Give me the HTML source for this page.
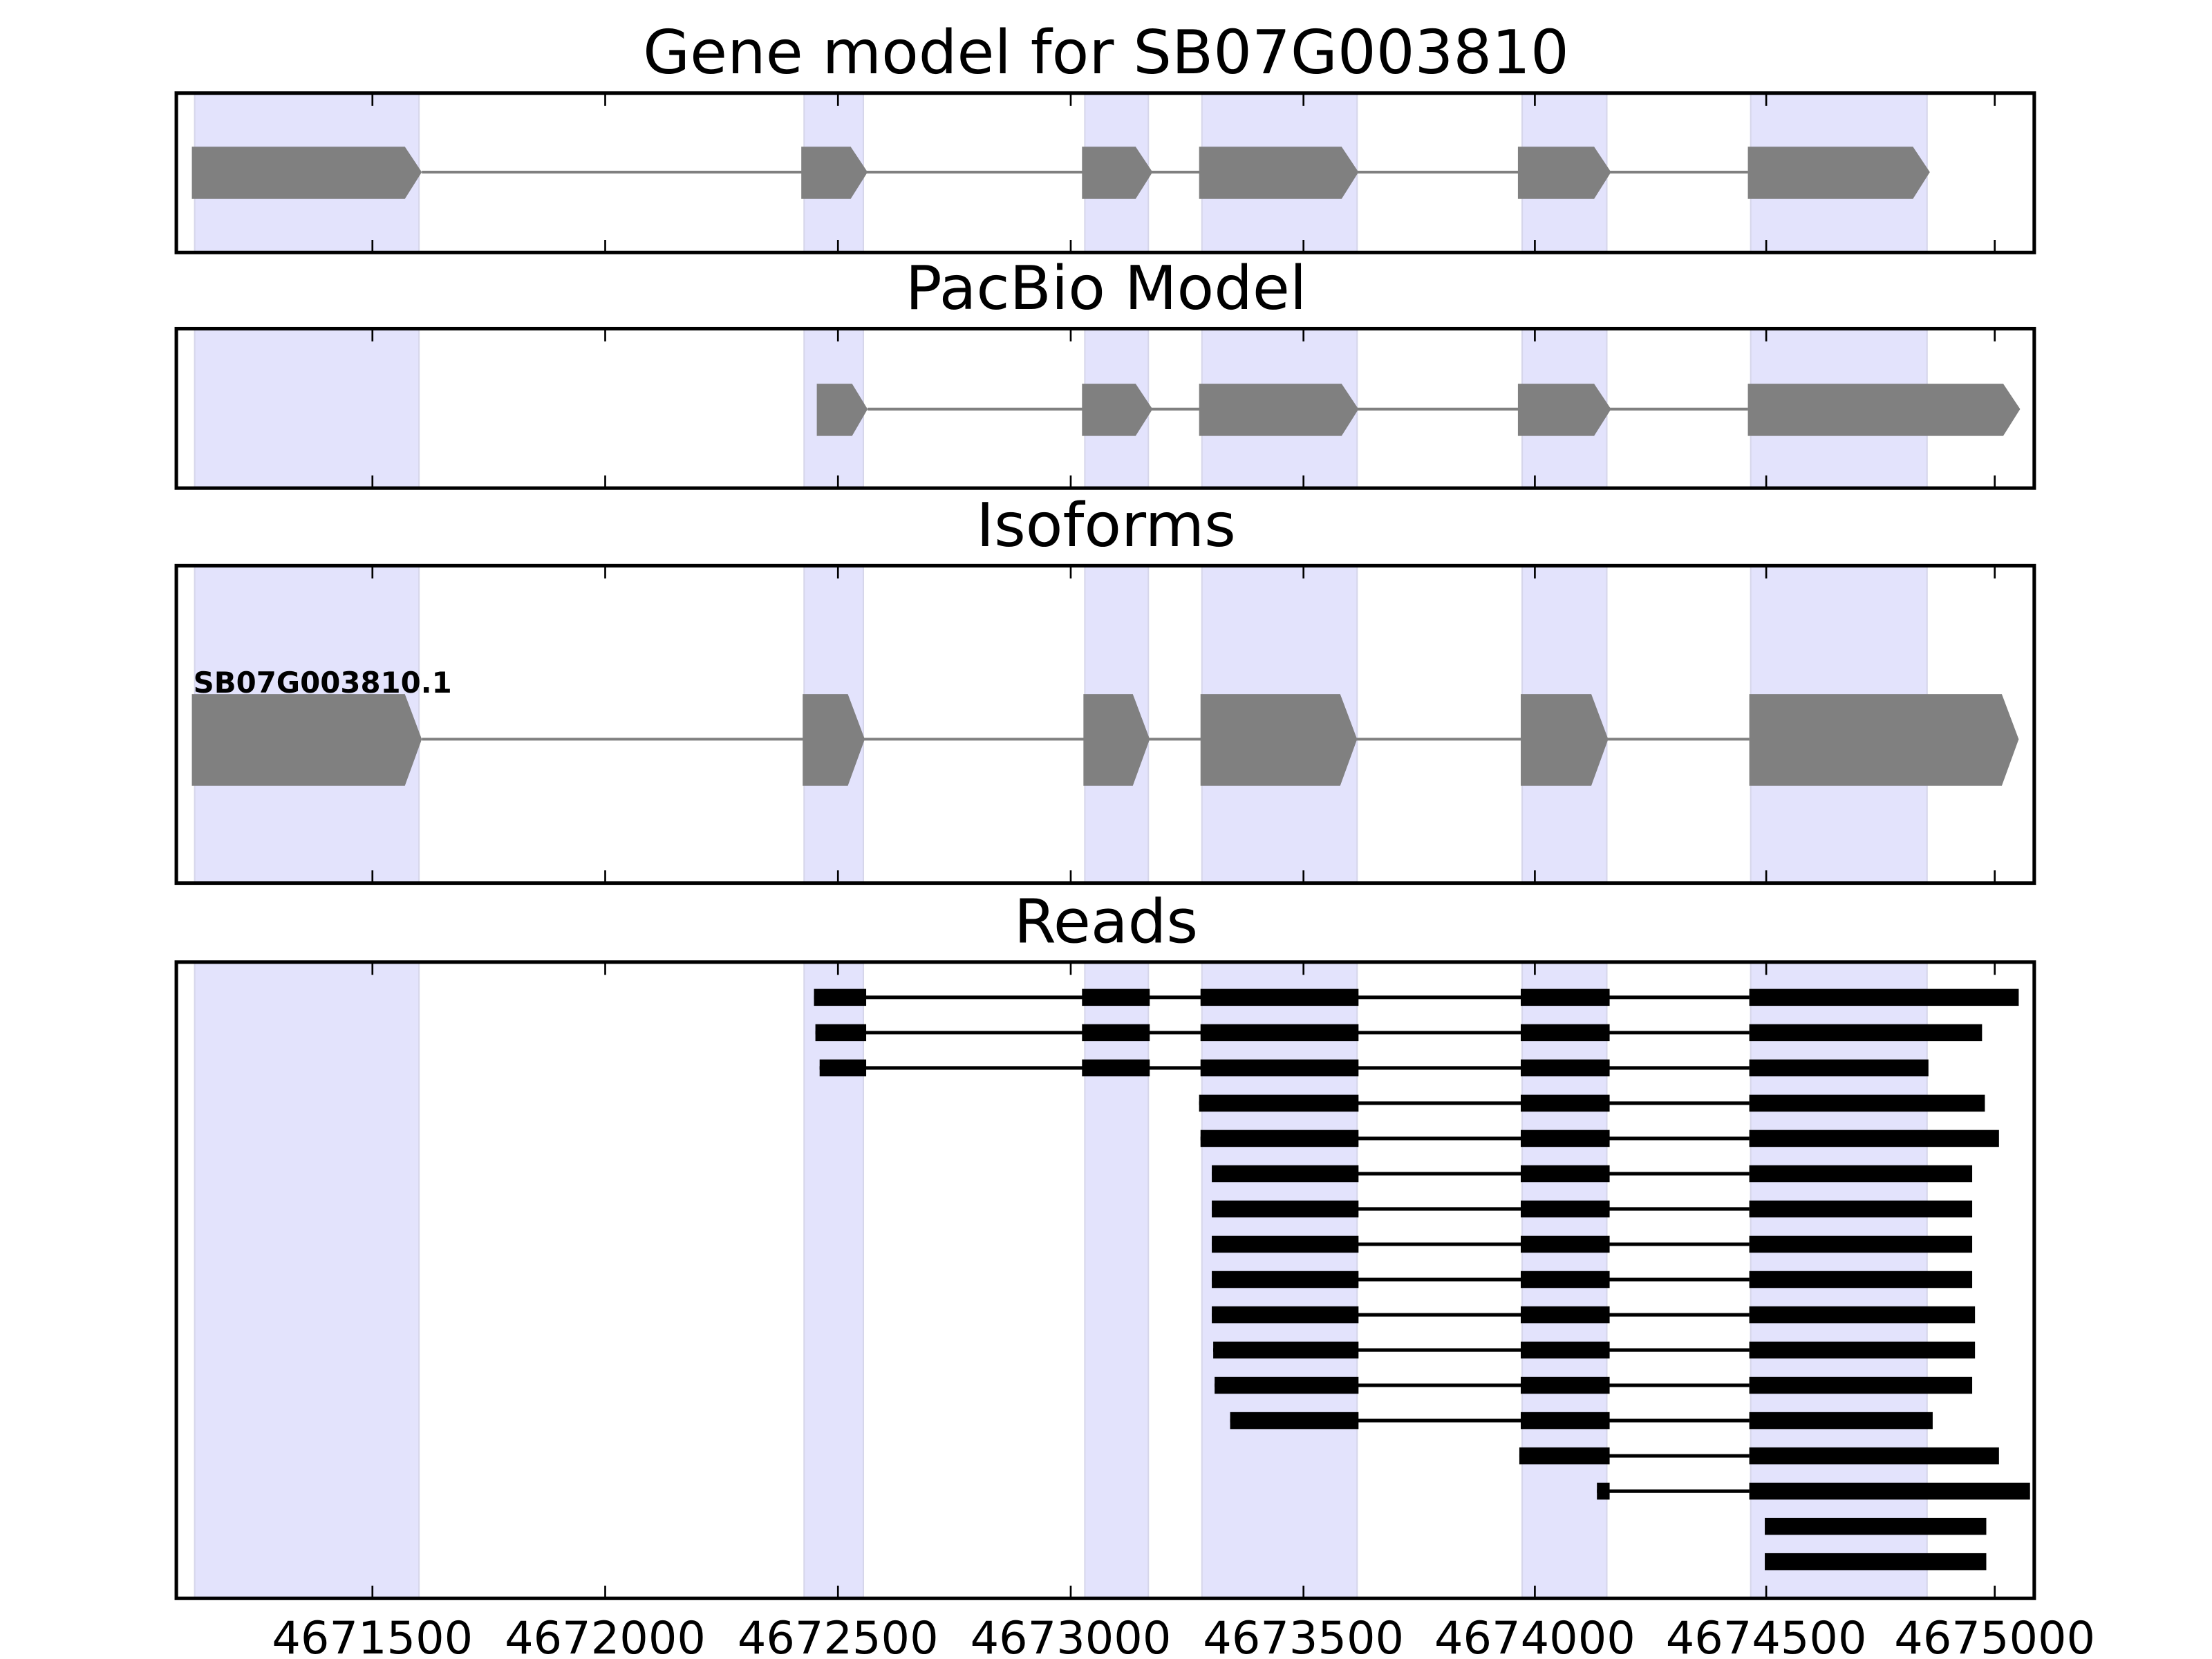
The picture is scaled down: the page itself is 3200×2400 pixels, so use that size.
<!DOCTYPE html>
<html><head><meta charset="utf-8"><style>html,body{margin:0;padding:0;background:#fff}svg{display:block}</style></head>
<body>
<svg width="3200" height="2400" viewBox="0 0 1568 1176" xmlns="http://www.w3.org/2000/svg" font-family="DejaVu Sans, Liberation Sans, sans-serif">
<defs>
<g id="shade">
</g>
</defs>
<rect width="1568" height="1176" fill="#fff"/>
<!-- shading per panel -->
<g fill="#e3e3fc" stroke="#d6d6ea" stroke-width="1">
<rect x="138" y="66" width="159" height="113"/><rect x="570" y="66" width="42" height="113"/><rect x="769" y="66" width="45" height="113"/><rect x="852" y="66" width="110" height="113"/><rect x="1079" y="66" width="60" height="113"/><rect x="1241" y="66" width="125" height="113"/>
<rect x="138" y="233" width="159" height="113"/><rect x="570" y="233" width="42" height="113"/><rect x="769" y="233" width="45" height="113"/><rect x="852" y="233" width="110" height="113"/><rect x="1079" y="233" width="60" height="113"/><rect x="1241" y="233" width="125" height="113"/>
<rect x="138" y="401" width="159" height="225"/><rect x="570" y="401" width="42" height="225"/><rect x="769" y="401" width="45" height="225"/><rect x="852" y="401" width="110" height="225"/><rect x="1079" y="401" width="60" height="225"/><rect x="1241" y="401" width="125" height="225"/>
<rect x="138" y="682" width="159" height="451"/><rect x="570" y="682" width="42" height="451"/><rect x="769" y="682" width="45" height="451"/><rect x="852" y="682" width="110" height="451"/><rect x="1079" y="682" width="60" height="451"/><rect x="1241" y="682" width="125" height="451"/>
</g>
<!-- Panel 1 -->
<g stroke="#808080" stroke-width="2"><line x1="299" y1="122" x2="1239" y2="122"/></g>
<g fill="#808080">
<polygon points="136,104 287,104 299,122 287,141 136,141"/>
<polygon points="568,104 603,104 615,122 603,141 568,141"/>
<polygon points="767,104 805,104 817,122 805,141 767,141"/>
<polygon points="850,104 951,104 963,122 951,141 850,141"/>
<polygon points="1076,104 1130,104 1142,122 1130,141 1076,141"/>
<polygon points="1239,104 1356,104 1368,122 1356,141 1239,141"/>
</g>
<!-- Panel 2 -->
<g stroke="#808080" stroke-width="2"><line x1="615" y1="290" x2="1239" y2="290"/></g>
<g fill="#808080">
<polygon points="579,272 604,272 615,290 604,309 579,309"/>
<polygon points="767,272 805,272 817,290 805,309 767,309"/>
<polygon points="850,272 951,272 963,290 951,309 850,309"/>
<polygon points="1076,272 1130,272 1142,290 1130,309 1076,309"/>
<polygon points="1239,272 1420,272 1432,290 1420,309 1239,309"/>
</g>
<!-- Panel 3 -->
<g stroke="#808080" stroke-width="2"><line x1="299" y1="524" x2="1240" y2="524"/></g>
<g fill="#808080">
<polygon points="136,492 287,492 299,524 287,557 136,557"/>
<polygon points="569,492 601,492 613,524 601,557 569,557"/>
<polygon points="768,492 803,492 815,524 803,557 768,557"/>
<polygon points="851,492 950,492 962,524 950,557 851,557"/>
<polygon points="1078,492 1128,492 1140,524 1128,557 1078,557"/>
<polygon points="1240,492 1419,492 1431,524 1419,557 1240,557"/>
</g>
<text x="137" y="491" font-size="20.5" font-weight="bold" fill="#000">SB07G003810.1</text>
<!-- Panel 4 reads -->
<g stroke="#000" stroke-width="2.5">
<line x1="577" y1="707" x2="1240" y2="707"/>
<line x1="578" y1="732" x2="1240" y2="732"/>
<line x1="581" y1="757" x2="1240" y2="757"/>
<line x1="850" y1="782" x2="1240" y2="782"/>
<line x1="851" y1="807" x2="1240" y2="807"/>
<line x1="859" y1="832" x2="1240" y2="832"/>
<line x1="859" y1="857" x2="1240" y2="857"/>
<line x1="859" y1="882" x2="1240" y2="882"/>
<line x1="859" y1="907" x2="1240" y2="907"/>
<line x1="859" y1="932" x2="1240" y2="932"/>
<line x1="860" y1="957" x2="1240" y2="957"/>
<line x1="861" y1="982" x2="1240" y2="982"/>
<line x1="872" y1="1007" x2="1240" y2="1007"/>
<line x1="1077" y1="1032" x2="1240" y2="1032"/>
<line x1="1132" y1="1057" x2="1240" y2="1057"/>
</g>
<g fill="#000">
<rect x="577" y="701" width="37" height="12"/><rect x="767" y="701" width="48" height="12"/><rect x="851" y="701" width="112" height="12"/><rect x="1078" y="701" width="63" height="12"/><rect x="1240" y="701" width="191" height="12"/>
<rect x="578" y="726" width="36" height="12"/><rect x="767" y="726" width="48" height="12"/><rect x="851" y="726" width="112" height="12"/><rect x="1078" y="726" width="63" height="12"/><rect x="1240" y="726" width="165" height="12"/>
<rect x="581" y="751" width="33" height="12"/><rect x="767" y="751" width="48" height="12"/><rect x="851" y="751" width="112" height="12"/><rect x="1078" y="751" width="63" height="12"/><rect x="1240" y="751" width="127" height="12"/>
<rect x="850" y="776" width="113" height="12"/><rect x="1078" y="776" width="63" height="12"/><rect x="1240" y="776" width="167" height="12"/>
<rect x="851" y="801" width="112" height="12"/><rect x="1078" y="801" width="63" height="12"/><rect x="1240" y="801" width="177" height="12"/>
<rect x="859" y="826" width="104" height="12"/><rect x="1078" y="826" width="63" height="12"/><rect x="1240" y="826" width="158" height="12"/>
<rect x="859" y="851" width="104" height="12"/><rect x="1078" y="851" width="63" height="12"/><rect x="1240" y="851" width="158" height="12"/>
<rect x="859" y="876" width="104" height="12"/><rect x="1078" y="876" width="63" height="12"/><rect x="1240" y="876" width="158" height="12"/>
<rect x="859" y="901" width="104" height="12"/><rect x="1078" y="901" width="63" height="12"/><rect x="1240" y="901" width="158" height="12"/>
<rect x="859" y="926" width="104" height="12"/><rect x="1078" y="926" width="63" height="12"/><rect x="1240" y="926" width="160" height="12"/>
<rect x="860" y="951" width="103" height="12"/><rect x="1078" y="951" width="63" height="12"/><rect x="1240" y="951" width="160" height="12"/>
<rect x="861" y="976" width="102" height="12"/><rect x="1078" y="976" width="63" height="12"/><rect x="1240" y="976" width="158" height="12"/>
<rect x="872" y="1001" width="91" height="12"/><rect x="1078" y="1001" width="63" height="12"/><rect x="1240" y="1001" width="130" height="12"/>
<rect x="1077" y="1026" width="64" height="12"/><rect x="1240" y="1026" width="177" height="12"/>
<rect x="1132" y="1051" width="9" height="12"/><rect x="1240" y="1051" width="199" height="12"/>
<rect x="1251" y="1076" width="157" height="12"/>
<rect x="1251" y="1101" width="157" height="12"/>
</g>
<!-- axes frames and ticks -->
<g fill="none" stroke="#000" stroke-width="2.5">
<rect x="125" y="66" width="1317" height="113"/>
<rect x="125" y="233" width="1317" height="113"/>
<rect x="125" y="401" width="1317" height="225"/>
<rect x="125" y="682" width="1317" height="451"/>
</g>
<g stroke="#000" stroke-width="1.3">
<path d="M264 66v9M429 66v9M594 66v9M759 66v9M924 66v9M1088 66v9M1252 66v9M1414 66v9 M264 179v-9M429 179v-9M594 179v-9M759 179v-9M924 179v-9M1088 179v-9M1252 179v-9M1414 179v-9"/>
<path d="M264 233v9M429 233v9M594 233v9M759 233v9M924 233v9M1088 233v9M1252 233v9M1414 233v9 M264 346v-9M429 346v-9M594 346v-9M759 346v-9M924 346v-9M1088 346v-9M1252 346v-9M1414 346v-9"/>
<path d="M264 401v9M429 401v9M594 401v9M759 401v9M924 401v9M1088 401v9M1252 401v9M1414 401v9 M264 626v-9M429 626v-9M594 626v-9M759 626v-9M924 626v-9M1088 626v-9M1252 626v-9M1414 626v-9"/>
<path d="M264 682v9M429 682v9M594 682v9M759 682v9M924 682v9M1088 682v9M1252 682v9M1414 682v9 M264 1133v-9M429 1133v-9M594 1133v-9M759 1133v-9M924 1133v-9M1088 1133v-9M1252 1133v-9M1414 1133v-9"/>
</g>
<!-- titles -->
<g font-size="43" text-anchor="middle" fill="#000">
<text x="784" y="52">Gene model for SB07G003810</text>
<text x="784" y="219">PacBio Model</text>
<text x="784" y="387">Isoforms</text>
<text x="784" y="668">Reads</text>
</g>
<g font-size="32" text-anchor="middle" fill="#000">
<text x="264" y="1172">4671500</text>
<text x="429" y="1172">4672000</text>
<text x="594" y="1172">4672500</text>
<text x="759" y="1172">4673000</text>
<text x="924" y="1172">4673500</text>
<text x="1088" y="1172">4674000</text>
<text x="1252" y="1172">4674500</text>
<text x="1414" y="1172">4675000</text>
</g>
</svg>
</body></html>
